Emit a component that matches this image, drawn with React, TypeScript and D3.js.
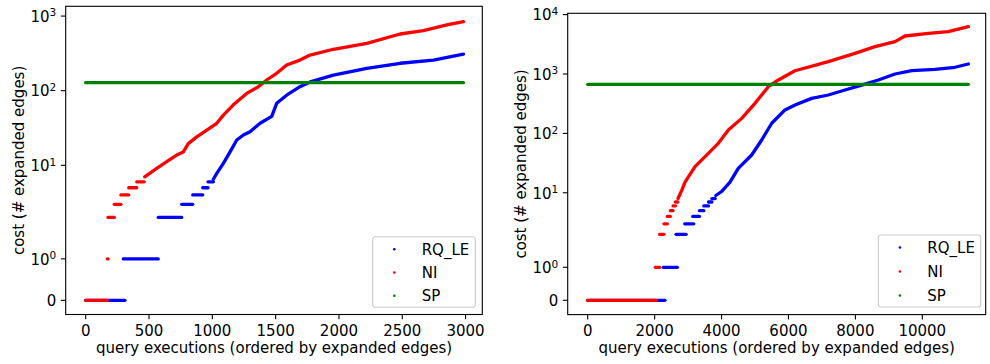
import React from 'react';
import * as d3 from 'd3';

// ---------- data ----------
const seriesNames = ['RQ_LE', 'NI', 'SP'];
const seriesColors = ['#0000ff', '#ff0000', '#008000'];

// Left panel
const leftXTicks = [0, 500, 1000, 1500, 2000, 2500, 3000];
const leftYTicks = [0, 1, 10, 100, 1000];
const leftRqleRuns: [number, number, number][] = [
  [0, 310, 0], [297, 573, 1], [573, 758, 2], [758, 845, 3], [845, 924, 4], [924, 966, 5], [966, 1008, 6],
];
const leftRqleCurve: [number, number][] = [
  [1008, 6.5], [1035, 7.8], [1087, 10.6], [1140, 15.1], [1193, 21.8], [1245, 25.5], [1298, 28.2],
  [1377, 36.6], [1469, 45.2], [1508, 67.7], [1587, 87], [1692, 113], [1772, 131], [1956, 162],
  [2220, 199], [2483, 233], [2746, 257], [2983, 309],
];
const leftNiRuns: [number, number, number][] = [
  [0, 171, 0], [171, 176, 1], [176, 226, 2], [226, 278, 3], [278, 340, 4], [340, 403, 5], [403, 462, 6],
];
const leftNiCurve: [number, number][] = [
  [466, 7], [561, 9.1], [640, 11.2], [719, 13.7], [771, 15.1], [810, 19.5], [877, 24], [956, 29.6],
  [1035, 36.5], [1087, 47], [1166, 64.6], [1271, 92], [1363, 113], [1429, 139], [1508, 171],
  [1587, 221], [1692, 257], [1772, 300], [1956, 359], [2220, 431], [2483, 575], [2667, 637],
  [2852, 760], [2983, 840],
];
const leftSp: [number, number][] = [[0, 128], [2983, 128]];

// Right panel
const rightXTicks = [0, 2000, 4000, 6000, 8000, 10000];
const rightYTicks = [0, 1, 10, 100, 1000, 10000];
const rightRqleRuns: [number, number, number][] = [
  [0, 2310, 0], [2260, 2680, 1], [2640, 2940, 2], [2900, 3170, 3], [3140, 3340, 4], [3340, 3470, 5],
  [3470, 3610, 6], [3610, 3710, 7], [3710, 3810, 8],
];
const rightRqleCurve: [number, number][] = [
  [3830, 9], [4000, 10.5], [4253, 15.1], [4500, 25.8], [4900, 43.3], [5200, 77.4], [5500, 148],
  [5896, 248], [6196, 300], [6694, 389], [7191, 443], [7690, 537], [8189, 651], [8686, 793],
  [9185, 1000], [9683, 1135], [10379, 1200], [10977, 1298], [11375, 1474],
];
const rightNiRuns: [number, number, number][] = [
  [0, 2060, 0], [2020, 2150, 1], [2150, 2280, 2], [2280, 2380, 3], [2380, 2470, 4], [2470, 2550, 5],
  [2550, 2620, 6], [2620, 2690, 7],
];
const rightNiCurve: [number, number][] = [
  [2700, 8], [2809, 11], [2908, 15.1], [3207, 27.5], [3605, 46.2], [3904, 68], [4203, 114],
  [4602, 179], [5000, 321], [5398, 611], [5697, 793], [6196, 1135], [7191, 1611], [7989, 2228],
  [8587, 2885], [9185, 3500], [9484, 4364], [10180, 4840], [10777, 5150], [11375, 6250],
];
const rightSp: [number, number][] = [[0, 670], [11375, 670]];

const xLabel = 'query executions (ordered by expanded edges)';
const yLabel = 'cost (# expanded edges)';

// ---------- symlog (matplotlib, linthresh=2, linscale=1, base 10) ----------
const LINTHRESH = 2;
const LINADJ = 1 / (1 - 1 / 10);
const symT = (v: number) =>
  v <= LINTHRESH ? (v / LINTHRESH) * LINADJ : LINADJ + Math.log10(v / LINTHRESH);

const FONT = 'DejaVu Sans, sans-serif';
const FS = 15;

type PanelProps = {
  left: number; right: number; top: number; bottom: number;
  xDomain: [number, number]; tDomain: [number, number];
  xTicks: number[]; yTicks: number[];
  rqleRuns: [number, number, number][]; rqleCurve: [number, number][];
  niRuns: [number, number, number][]; niCurve: [number, number][];
  sp: [number, number][];
  legend: { x0: number; x1: number; y0: number; y1: number };
};

function Panel(p: PanelProps) {
  const x = d3.scaleLinear().domain(p.xDomain).range([p.left, p.right]);
  const yt = d3.scaleLinear().domain(p.tDomain).range([p.bottom, p.top]);
  const y = (v: number) => yt(symT(v));
  const line = d3.line<[number, number]>().x(d => x(d[0])).y(d => y(d[1]));
  const SW = 3.3;
  const runPaths = (runs: [number, number, number][], color: string, key: string) =>
    runs.map((r, i) => (
      <path key={key + i} d={line([[r[0], r[2]], [r[1], r[2]]]) || ''} stroke={color}
        strokeWidth={SW} strokeLinecap="round" fill="none" />
    ));
  const tickLen = 4.86;
  const cx = (p.left + p.right) / 2;
  const cy = (p.top + p.bottom) / 2;
  const lg = p.legend;
  const rowH = (lg.y1 - lg.y0 - 24) / 2;
  return (
    <g>
      {/* data */}
      {runPaths(p.rqleRuns, seriesColors[0], 'br')}
      <path d={line(p.rqleCurve) || ''} stroke={seriesColors[0]} strokeWidth={SW}
        strokeLinecap="round" strokeLinejoin="round" fill="none" />
      {runPaths(p.niRuns, seriesColors[1], 'rr')}
      <path d={line(p.niCurve) || ''} stroke={seriesColors[1]} strokeWidth={SW}
        strokeLinecap="round" strokeLinejoin="round" fill="none" />
      <path d={line(p.sp) || ''} stroke={seriesColors[2]} strokeWidth={3.3}
        strokeLinecap="round" fill="none" />
      {/* frame */}
      <rect x={p.left} y={p.top} width={p.right - p.left} height={p.bottom - p.top}
        fill="none" stroke="#000" strokeWidth={1.1} />
      {/* x ticks */}
      {p.xTicks.map(t => (
        <g key={'xt' + t}>
          <line x1={x(t)} x2={x(t)} y1={p.bottom} y2={p.bottom + tickLen} stroke="#000" strokeWidth={1.1} />
          <text x={x(t)} y={p.bottom + 21} textAnchor="middle" fontFamily={FONT} fontSize={FS} fill="#000">{t}</text>
        </g>
      ))}
      {/* y ticks */}
      {p.yTicks.map(t => {
        const yy = y(t);
        const exp = t === 0 ? null : Math.round(Math.log10(t));
        return (
          <g key={'yt' + t}>
            <line x1={p.left - tickLen} x2={p.left} y1={yy} y2={yy} stroke="#000" strokeWidth={1.1} />
            {exp === null ? (
              <text x={p.left - 9.5} y={yy + 5.4} textAnchor="end" fontFamily={FONT} fontSize={FS} fill="#000">0</text>
            ) : (
              <text x={p.left - 9.5} y={yy + 5.8} textAnchor="end" fontFamily={FONT} fontSize={FS} fill="#000">
                10<tspan dy={-5.5} fontSize={FS * 0.7}>{exp}</tspan>
              </text>
            )}
          </g>
        );
      })}
      {/* labels */}
      <text x={cx} y={p.bottom + 38} textAnchor="middle" fontFamily={FONT} fontSize={FS} fill="#000">{xLabel}</text>
      <text transform={`translate(${p.left - 42},${cy}) rotate(-90)`} textAnchor="middle"
        fontFamily={FONT} fontSize={FS} fill="#000">{yLabel}</text>
      {/* legend */}
      <rect x={lg.x0} y={lg.y0} width={lg.x1 - lg.x0} height={lg.y1 - lg.y0} rx={2.8}
        fill="#fff" fillOpacity={0.8} stroke="#cccccc" strokeWidth={1.1} />
      {seriesNames.map((n, i) => {
        const my = lg.y0 + 12.5 + i * rowH;
        return (
          <g key={'lg' + n}>
            <circle cx={lg.x0 + 21.6} cy={my} r={1.3} fill={seriesColors[i]} />
            <text x={lg.x0 + 49} y={my + 5.4} fontFamily={FONT} fontSize={FS} fill="#000">{n}</text>
          </g>
        );
      })}
    </g>
  );
}

export default function App() {
  return (
    <svg width={990} height={364} style={{ position: 'absolute', left: 0, top: 0, background: '#fff' }}>
      <rect x={0} y={0} width={990} height={364} fill="#fff" />
      <Panel left={65.7} right={482.3} top={6.3} bottom={314.5}
        xDomain={[-158, 3132]} tDomain={[-0.19, 3.941]}
        xTicks={leftXTicks} yTicks={leftYTicks}
        rqleRuns={leftRqleRuns} rqleCurve={leftRqleCurve}
        niRuns={leftNiRuns} niCurve={leftNiCurve} sp={leftSp}
        legend={{ x0: 372.7, x1: 475.3, y0: 236.7, y1: 307.3 }} />
      <Panel left={567.7} right={985.7} top={13.3} bottom={314.6}
        xDomain={[-598, 11895]} tDomain={[-0.241, 4.832]}
        xTicks={rightXTicks} yTicks={rightYTicks}
        rqleRuns={rightRqleRuns} rqleCurve={rightRqleCurve}
        niRuns={rightNiRuns} niCurve={rightNiCurve} sp={rightSp}
        legend={{ x0: 878.3, x1: 980.7, y0: 235, y1: 307 }} />
    </svg>
  );
}
